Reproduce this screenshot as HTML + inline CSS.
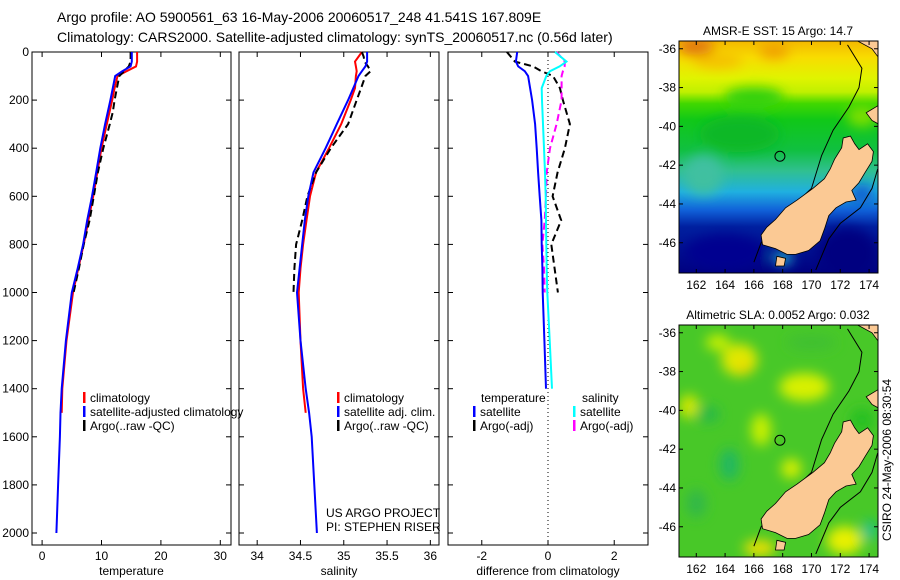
<!DOCTYPE html>
<html><head><meta charset="utf-8">
<style>
html,body{margin:0;padding:0;background:#fff;}
svg{display:block;font-family:"Liberation Sans",sans-serif;}
</style></head>
<body>
<svg id="fig" width="900" height="580" viewBox="0 0 900 580" xmlns="http://www.w3.org/2000/svg">
<defs>
<linearGradient id="sstg" x1="0" y1="0" x2="0" y2="1">
<stop offset="0" stop-color="#f4b800"/><stop offset="0.07" stop-color="#f8dc00"/><stop offset="0.16" stop-color="#e0f400"/>
<stop offset="0.22" stop-color="#c0f000"/><stop offset="0.27" stop-color="#40d800"/><stop offset="0.34" stop-color="#10c818"/><stop offset="0.47" stop-color="#10c040"/>
<stop offset="0.56" stop-color="#30c090"/><stop offset="0.65" stop-color="#20b0e0"/><stop offset="0.73" stop-color="#1060d8"/>
<stop offset="0.8" stop-color="#0020a0"/><stop offset="1" stop-color="#000080"/>
</linearGradient>
<filter id="blur6"><feGaussianBlur stdDeviation="6"/></filter>
<clipPath id="clipA"><rect x="679" y="41" width="199" height="232"/></clipPath>
<clipPath id="clipB"><rect x="679" y="325" width="199" height="232"/></clipPath>
</defs>
<text x="57" y="22" font-size="14">Argo profile: AO 5900561_63 16-May-2006 20060517_248 41.541S 167.809E</text>
<text x="57" y="42" font-size="14">Climatology: CARS2000. Satellite-adjusted climatology: synTS_20060517.nc (0.56d later)</text>
<g id="panels"></g>
<g id="maps"></g>
<text transform="translate(891,460) rotate(-90)" text-anchor="middle" font-size="12">CSIRO 24-May-2006 08:30:54</text>
</svg>
<script>
// ---- data ----
const depthGrid = [0,40,60,80,100,150,200,300,400,500,600,700,800,900,1000,1200,1400,1500,1600,1800,2000];
const tempSat  = [15.1,15.1,14.9,13.5,12.3,11.9,11.5,10.6,9.8,9.1,8.4,7.6,6.9,6.0,5.0,4.0,3.3,3.1,3.0,2.7,2.4];
const tempClim = [16.0,16.0,15.8,14.2,12.7,12.2,11.8,10.9,10.0,9.3,8.6,7.8,7.0,6.1,5.2,4.1,3.4,3.3];
const argoDepth = [0,20,40,60,80,100,150,200,250,300,400,500,600,700,800,900,1000];
const tempArgo = [14.9,14.9,14.9,14.6,13.8,13.0,12.6,12.2,11.9,11.4,10.3,9.4,8.7,8.0,7.0,6.2,5.3];
const salSat  = [35.27,35.27,35.25,35.21,35.17,35.11,35.05,34.92,34.79,34.65,34.59,34.55,34.52,34.49,34.46,34.50,34.56,34.60,34.63,34.66,34.69];
const salClim = [35.21,35.13,35.14,35.15,35.14,35.13,35.08,34.97,34.83,34.68,34.61,34.57,34.53,34.50,34.48,34.50,34.53,34.56];
const salArgo = [35.21,35.23,35.24,35.28,35.31,35.25,35.20,35.15,35.10,35.05,34.85,34.68,34.58,34.52,34.45,34.43,34.42];
const dTempSat = [-0.93,-0.97,-0.9,-0.7,-0.6,-0.54,-0.48,-0.39,-0.34,-0.3,-0.25,-0.2,-0.19,-0.17,-0.16,-0.11,-0.06];
const dSalSat  = [0.21,0.56,0.35,0.06,-0.05,-0.19,-0.18,-0.15,-0.12,-0.09,-0.07,-0.06,-0.05,-0.04,-0.02,0.05,0.12];
const dDepth = [0,40,60,80,100,150,200,300,400,500,600,700,800,900,1000,1200,1400];
const dTempArgo = [-1.24,-1.0,-0.45,-0.2,0.15,0.36,0.45,0.66,0.51,0.29,0.14,0.4,0.1,0.2,0.3];
const dSalArgo  = [0.26,0.51,0.5,0.45,0.41,0.41,0.41,0.26,0.06,-0.04,-0.06,-0.1,-0.17,-0.12,-0.1];
const depthTicks = [0,200,400,600,800,1000,1200,1400,1600,1800,2000];
const tempTicks = [0,10,20,30];
const salTicks = [34,34.5,35,35.5,36];
const diffTicks = [-2,0,2];
const lonTicks = [162,164,166,168,170,172,174];
const latTicks = [-36,-38,-40,-42,-44,-46];
const argoPos = [167.809,-41.541];

const NS='http://www.w3.org/2000/svg';
function mk(tag,attrs,parent){const e=document.createElementNS(NS,tag);for(const k in attrs)e.setAttribute(k,attrs[k]);parent.appendChild(e);return e;}
const y = d => 52 + d*0.2405;
const Y0=52, Y1=545;
const P = document.getElementById('panels');

function panel(x0,x1,vmin,vmax,ticks,label,name,showY){
  const sx = v => x0 + (v-vmin)/(vmax-vmin)*(x1-x0);
  const g = mk('g',{},P);
  
  
  const fr = mk('rect',{x:x0,y:Y0,width:x1-x0,height:Y1-Y0,fill:'none',stroke:'#000','stroke-width':1},g);
  
  
  ticks.forEach(t=>{
    const X=sx(t);
    mk('line',{x1:X,x2:X,y1:Y1,y2:Y1-5,stroke:'#000'},g);
    mk('line',{x1:X,x2:X,y1:Y0,y2:Y0+5,stroke:'#000'},g);
    const tx=mk('text',{x:X,y:Y1+15,'font-size':12,'text-anchor':'middle'},g);
    tx.textContent=t;
    
    
  });
  depthTicks.forEach(d=>{
    const Yv=y(d);
    mk('line',{x1:x0,x2:x0+5,y1:Yv,y2:Yv,stroke:'#000'},g);
    mk('line',{x1:x1,x2:x1-5,y1:Yv,y2:Yv,stroke:'#000'},g);
    if(showY){
      const tx=mk('text',{x:x0-3,y:Yv+4,'font-size':12,'text-anchor':'end'},g);
      tx.textContent=d;
      
      
    }
  });
  const xl=mk('text',{x:(x0+x1)/2,y:575,'font-size':12,'text-anchor':'middle'},g);
  xl.textContent=label;
  
  
  return {g,sx};
}
function line(pan,vals,depths,color,dash,nm,w){
  const pts=vals.map((v,i)=>pan.sx(v).toFixed(1)+','+y(depths[i]).toFixed(1)).join(' ');
  const pl=mk('polyline',{points:pts,fill:'none',stroke:color,'stroke-width':w||2,'stroke-dasharray':dash||'none'},pan.g);
  
  
}
function legend(g,x,yy,items){
  items.forEach((it,i)=>{
    const Yv=yy+i*14;
    mk('rect',{x:x,y:Yv-10,width:2.5,height:11,fill:it[1]},g);
    const t=mk('text',{x:x+7,y:Yv,'font-size':12},g);
    t.textContent=it[0];
    
    
  });
}
// temperature
const p1=panel(32,231,-1.7,31.8,tempTicks,'temperature','temperature',true);
line(p1,tempClim,depthGrid.slice(0,tempClim.length),'#f00','', 'temp-climatology-line');
line(p1,tempArgo,argoDepth,'#000','7,4','temp-argo-line');
line(p1,tempSat,depthGrid,'#00f','', 'temp-satellite-line');
legend(p1.g,83,402,[['climatology','#f00'],['satellite-adjusted climatology','#00f'],['Argo(..raw -QC)','#000']]);
// salinity
const p2=panel(239,439,33.79,36.1,salTicks,'salinity','salinity',false);
line(p2,salClim,depthGrid.slice(0,salClim.length),'#f00','', 'sal-climatology-line');
line(p2,salArgo,argoDepth,'#000','7,4','sal-argo-line');
line(p2,salSat,depthGrid,'#00f','', 'sal-satellite-line');
legend(p2.g,337,402,[['climatology','#f00'],['satellite adj. clim.','#00f'],['Argo(..raw -QC)','#000']]);
const c1=mk('text',{x:326,y:517,'font-size':12},p2.g);c1.textContent='US ARGO PROJECT';


const c2=mk('text',{x:326,y:531,'font-size':12},p2.g);c2.textContent='PI: STEPHEN RISER';


// difference
const p3=panel(448,648,-3.02,3.02,diffTicks,'difference from climatology','difference',false);
const zx=p3.sx(0);
mk('line',{x1:zx,x2:zx,y1:Y0,y2:Y1,stroke:'#000','stroke-dasharray':'1,3'},p3.g);
line(p3,dTempArgo,dDepth.slice(0,dTempArgo.length),'#000','7,4','dtemp-argo-line');
line(p3,dSalArgo,dDepth.slice(0,dSalArgo.length),'#f0f','7,4','dsal-argo-line');
line(p3,dTempSat,dDepth,'#00f','', 'dtemp-satellite-line');
line(p3,dSalSat,dDepth,'#0ff','', 'dsal-satellite-line');
const lt=mk('text',{x:481,y:402,'font-size':12},p3.g);lt.textContent='temperature';


const ls=mk('text',{x:582,y:402,'font-size':12},p3.g);ls.textContent='salinity';


legend(p3.g,473,416,[['satellite','#00f'],['Argo(-adj)','#000']]);
legend(p3.g,573,416,[['satellite','#0ff'],['Argo(-adj)','#f0f']]);

// ---- maps ----
const M=document.getElementById('maps');
const island=[[172.7,-40.5],[173.0,-40.9],[173.3,-41.2],[173.9,-40.9],[174.3,-41.3],[174.2,-41.8],[173.7,-42.4],[173.3,-42.9],[172.8,-43.3],[173.1,-43.8],[172.4,-43.9],[171.7,-44.2],[171.2,-44.6],[170.9,-45.3],[170.6,-45.9],[169.8,-46.4],[168.9,-46.6],[168.3,-46.6],[167.5,-46.3],[166.6,-46.1],[166.5,-45.6],[166.9,-45.2],[167.5,-44.8],[168.2,-44.2],[169.0,-43.8],[170.1,-43.2],[170.9,-42.7],[171.3,-42.2],[171.6,-41.7],[172.1,-41.1],[172.2,-40.6]];
const stewart=[[167.6,-46.7],[168.2,-46.8],[168.1,-47.2],[167.5,-47.2]];
const northIs=[[173.2,-35.6],[174.7,-35.6],[174.7,-36.5],[174.2,-36.0]];
const taranaki=[[174.7,-38.9],[173.8,-39.3],[174.2,-39.7],[174.7,-39.9]];
const iso=[[166,-47.0],[166.5,-46.0],[168,-44.6],[170,-43.2],[170.7,-41.5],[171.5,-40.2],[172.6,-39.0],[173.3,-38.0],[173.5,-37.0],[172.5,-35.8]];
const iso2=[[170.3,-47.4],[171.2,-45.8],[172.0,-45.0],[173.4,-44.2],[174.2,-43.2],[174.6,-42.2]];
function mapPanel(top,title,name,bgFill,blobs){
  const sx=lo=>679+(lo-160.8)*14.4, sy=la=>top+(-35.6-la)*19.4;
  const g=mk('g',{},M);
  
  
  const inner=mk('g',{'clip-path':'url(#'+(top<100?'clipA':'clipB')+')'},g);
  mk('rect',{x:679,y:top,width:199,height:232,fill:bgFill},inner);
  const bg=mk('g',{filter:'url(#blur6)'},inner);
  blobs.forEach(b=>mk('ellipse',{cx:sx(b[0]),cy:sy(b[1]),rx:b[2],ry:b[3],fill:b[4]},bg));
  const path=a=>a.map(p=>sx(p[0]).toFixed(1)+','+sy(p[1]).toFixed(1)).join(' ');
  mk('polyline',{points:path(iso),fill:'none',stroke:'#000','stroke-width':1},inner);
  mk('polyline',{points:path(iso2),fill:'none',stroke:'#000','stroke-width':1},inner);
  [island,stewart,northIs,taranaki].forEach(a=>{
    const l=mk('polygon',{points:path(a),fill:'#fbc994',stroke:'#000','stroke-width':0.8},inner);
    
    
  });
  const c=mk('circle',{cx:sx(argoPos[0]),cy:sy(argoPos[1]),r:5,fill:'none',stroke:'#000'},inner);
  
  
  mk('rect',{x:679,y:top,width:199,height:232,fill:'none',stroke:'#000'},g);
  lonTicks.forEach(lo=>{
    const X=sx(lo);
    mk('line',{x1:X,x2:X,y1:top+232,y2:top+228,stroke:'#000'},g);
    mk('line',{x1:X,x2:X,y1:top,y2:top+4,stroke:'#000'},g);
    const t=mk('text',{x:X,y:top+248,'font-size':12,'text-anchor':'middle'},g);t.textContent=lo;
    
    
  });
  latTicks.forEach(la=>{
    const Yv=sy(la);
    mk('line',{x1:679,x2:683,y1:Yv,y2:Yv,stroke:'#000'},g);
    mk('line',{x1:878,x2:874,y1:Yv,y2:Yv,stroke:'#000'},g);
    const t=mk('text',{x:676,y:Yv+4,'font-size':12,'text-anchor':'end'},g);t.textContent=la;
    
    
  });
  const tt=mk('text',{x:778,y:top-6,'font-size':12,'text-anchor':'middle'},g);tt.textContent=title;
  
  
}
mapPanel(41,'AMSR-E SST: 15 Argo: 14.7','sst','url(#sstg)',[
 [162,-35.9,18,8,'#e07010'],[167.4,-36.1,15,8,'#f0a000'],[163.5,-36.6,25,8,'#f4c000'],
 [165,-40.4,40,18,'#10b828'],[162.5,-42.5,20,20,'#40c0a0'],[164,-46.5,40,18,'#000090'],
 [172.5,-46.5,30,25,'#000080'],[168,-46.8,10,6,'#20c0d0'],[173.5,-43.5,12,10,'#1060d0'],
 [173.5,-39.5,15,10,'#80e000'],[166,-38.5,30,10,'#30d010']]);
mapPanel(325,'Altimetric SLA: 0.0052 Argo: 0.032','sla','#48c828',[
 [165,-37.4,18,16,'#e0e800'],[163.5,-36.5,12,8,'#c8f000'],[169.5,-38.8,25,14,'#d8f000'],
 [165.3,-37.8,6,5,'#f0d000'],[161.5,-39.8,10,12,'#d0e800'],[166.5,-41,10,16,'#c8f000'],
 [168.6,-43,10,10,'#d8f000'],[164.3,-42.8,10,16,'#20b860'],[162.8,-40.2,12,8,'#28b848'],
 [166.4,-47.1,16,8,'#f0e000'],[172.3,-46.7,18,14,'#e8f000'],[174,-46.2,6,10,'#10c0a0'],
 [162,-44.8,10,14,'#30b848'],[170,-36.5,25,8,'#40c030'],[173.5,-40.5,12,12,'#28c020']]);
</script>
</body></html>
